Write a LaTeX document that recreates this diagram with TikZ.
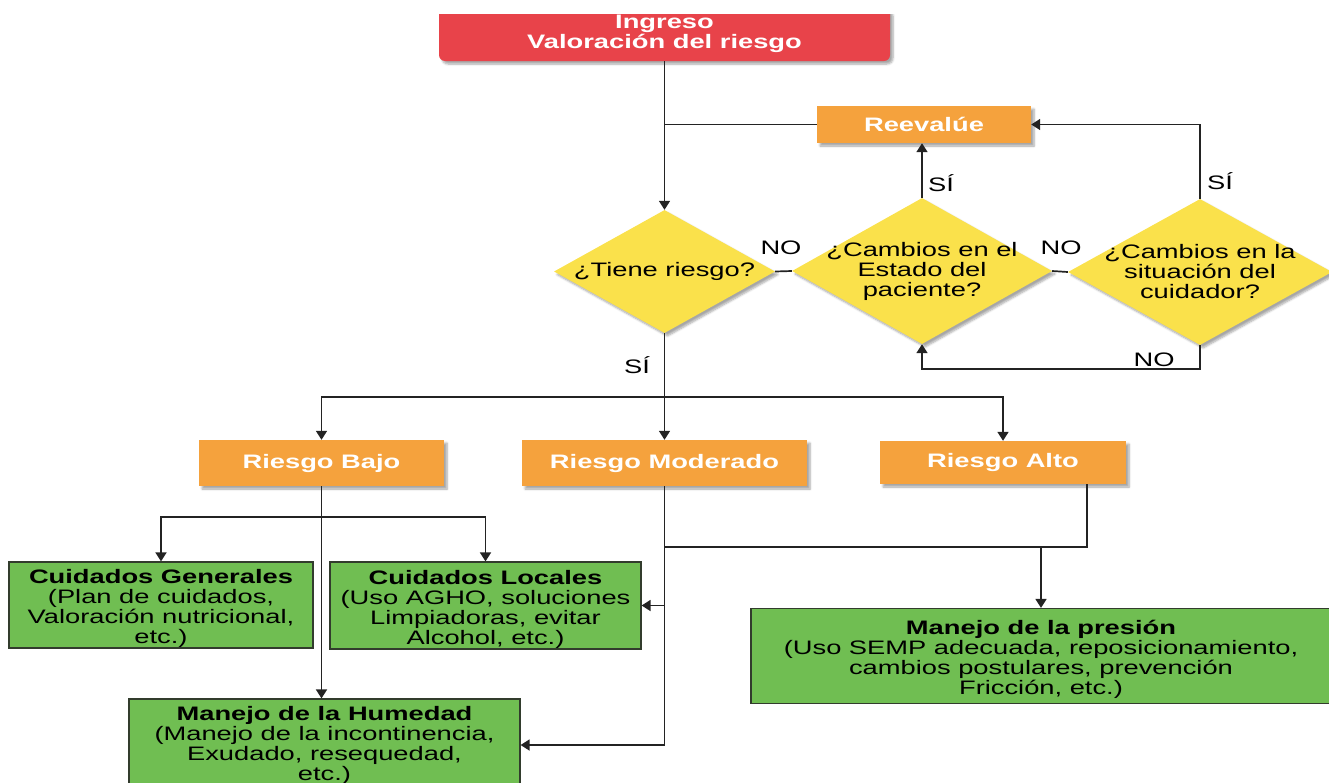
\documentclass[tikz,border=0pt]{standalone}
\usepackage{fontspec}
\setmainfont{Liberation Sans}[FakeStretch=1.4]
\usetikzlibrary{arrows.meta,shapes.geometric,shadows.blur}
\definecolor{redbox}{RGB}{232,67,74}
\definecolor{orangebox}{RGB}{245,162,61}
\definecolor{yellowbox}{RGB}{250,225,75}
\definecolor{greenbox}{RGB}{112,190,82}
\definecolor{greenborder}{RGB}{50,60,45}
\definecolor{linecol}{RGB}{35,35,35}
\newcommand{\topstrut}{\rule{0pt}{22pt}}
\begin{document}
\begin{tikzpicture}[x=1pt,y=-1pt,
  every node/.style={font=\fontsize{19.5}{20}\selectfont},
  shad/.style={blur shadow={shadow xshift=3pt,shadow yshift=-3pt,shadow blur steps=6,shadow opacity=35}},
  obox/.style={rectangle,fill=orangebox,text=white,font=\fontsize{19.5}{20}\selectfont\bfseries,inner sep=0pt,shad},
  gbox/.style={rectangle,fill=greenbox,draw=greenborder,line width=1.2pt,align=center,inner sep=0pt,text=black},
  dec/.style={diamond,fill=yellowbox,inner sep=0pt,shad},
  conn/.style={draw=linecol,line width=1.7pt},
  arr/.style={conn,-{Triangle[width=11pt,length=9pt]}},
  lab/.style={text=black,inner sep=0pt}
]
\useasboundingbox (0,0) rectangle (1329,782);
\clip (0,14) rectangle (1329,782);

% nodes
\node[rectangle,rounded corners=6pt,fill=redbox,text=white,align=center,
  font=\fontsize{19.5}{20}\selectfont\bfseries,minimum width=451pt,minimum height=54pt,inner sep=0pt,shad]
  (ing) at (664.5,34) {Ingreso\\Valoración del riesgo};
\node[obox,minimum width=214pt,minimum height=37pt] (reev) at (924,124.5) {Reevalúe};

\node[dec,minimum width=221pt,minimum height=123pt,label={[align=center]center:¿Tiene riesgo?}] (d1) at (664.5,271.5) {};
\node[dec,minimum width=260pt,minimum height=146pt,label={[align=center]center:¿Cambios en el\\Estado del\\paciente?}] (d2) at (922,271) {};
\node[dec,minimum width=264pt,minimum height=146pt,label={[align=center]center:¿Cambios en la\\situación del\\cuidador?}] (d3) at (1200,272) {};

\node[obox,minimum width=245pt,minimum height=46pt] (bajo) at (321.5,463) {Riesgo Bajo};
\node[obox,minimum width=285pt,minimum height=46pt] (mod) at (664.5,463) {Riesgo Moderado};
\node[obox,minimum width=246pt,minimum height=43pt] (alto) at (1003,462.5) {Riesgo Alto};

\node[gbox,minimum width=304pt,minimum height=86pt] (cg) at (161,605)
  {\topstrut\textbf{Cuidados Generales}\\(Plan de cuidados,\\Valoración nutricional,\\etc.)};
\node[gbox,minimum width=311pt,minimum height=87pt] (cl) at (485.5,605.5)
  {\topstrut\textbf{Cuidados Locales}\\(Uso AGHO, soluciones\\Limpiadoras, evitar\\Alcohol, etc.)};
\node[gbox,minimum width=391pt,minimum height=92pt] (hum) at (324.5,745)
  {\textbf{Manejo de la Humedad}\\(Manejo de la incontinencia,\\Exudado, resequedad,\\etc.)};
\node[gbox,minimum width=580pt,minimum height=95pt] (pres) at (1041,656)
  {\topstrut\textbf{Manejo de la presión}\\(Uso SEMP adecuada, reposicionamiento,\\cambios postulares, prevención\\Fricción, etc.)};

% labels
\node[lab] (no1) at (781,248) {NO};
\node[lab] (no2) at (1061,248) {NO};
\node[lab] (no3) at (1154,360) {NO};
\node[lab] (si1) at (941,183) {SÍ};
\node[lab] (si2) at (1220,181) {SÍ};
\node[lab] (si3) at (637,365) {SÍ};

% connectors
\draw[arr] (ing.south) -- (d1.north);
\draw[conn] (reev.west) -- (reev.west -| ing.south);
\draw[arr] (d2.north) -- (d2.north |- reev.south);
\draw[arr] (d3.north) |- (reev.east);
\draw[conn] (d1.east) -- (d2.west);
\draw[conn] (d2.east) -- (d3.west);
\draw[arr] (d3.south) -- ++(0,24) -| (d2.south);

\path (d1.south) ++(0,64) coordinate (split);
\draw[conn] (d1.south) -- (split);
\draw[arr] (split) -| (bajo.north);
\draw[arr] (split) -- (mod.north);
\draw[arr] (split) -| (alto.north);

\path (bajo.south) ++(0,31) coordinate (bsplit);
\draw[arr] (bajo.south) -- (bajo.south |- hum.north);
\draw[arr] (bsplit) -| (cg.north);
\draw[arr] (bsplit) -| (cl.north);

\draw[arr] (mod.south) |- (hum.east);
\draw[arr] (mod.south |- cl.east) -- (cl.east);

\path ([xshift=-39pt]alto.south east) ++(0,63) coordinate (aj);
\draw[conn] ([xshift=-39pt]alto.south east) -- (aj) -- (aj -| mod.south);
\draw[arr] (aj -| pres.north) -- (pres.north);
\end{tikzpicture}
\end{document}
